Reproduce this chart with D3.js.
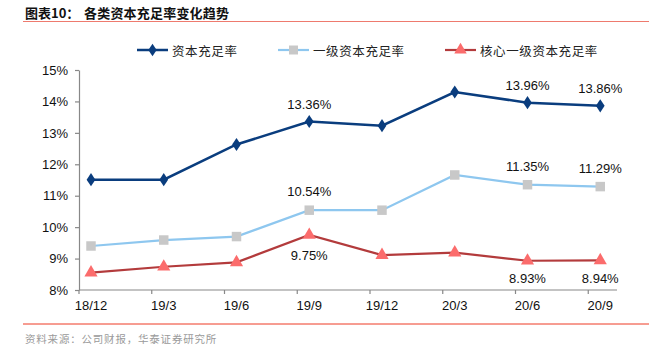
<!DOCTYPE html>
<html><head><meta charset="utf-8">
<script src="https://cdn.jsdelivr.net/npm/d3@7"></script>
<style>
html,body{margin:0;padding:0;background:#fff;}
svg{display:block;}
</style></head>
<body>
<svg id="c" width="659" height="345"></svg>
<script>
const categories = ["18/12","19/3","19/6","19/9","19/12","20/3","20/6","20/9"];
const capitalRatio = [11.51, 11.51, 12.63, 13.36, 13.23, 14.30, 13.96, 13.86];
const tier1Ratio = [9.40, 9.59, 9.70, 10.54, 10.54, 11.66, 11.35, 11.29];
const coreTier1Ratio = [8.55, 8.74, 8.88, 9.75, 9.11, 9.19, 8.93, 8.94];
const yTicks = [8, 9, 10, 11, 12, 13, 14, 15];
const seriesNames = ["资本充足率", "一级资本充足率", "核心一级资本充足率"];
const labelled = {
  capital: [3, 6, 7],
  tier1: [3, 6, 7],
  core: [3, 6, 7]
};

const svg = d3.select("#c");
const font = "'Liberation Sans', Arial, sans-serif";
const cjk = "'Noto Sans CJK SC', sans-serif";

// title
svg.append("text").attr("x", 25).attr("y", 18).attr("font-family", cjk)
  .attr("font-weight", "bold").attr("font-size", 13).attr("fill", "#111").text("图表10：");
svg.append("text").attr("x", 84).attr("y", 18).attr("font-family", cjk)
  .attr("font-weight", "bold").attr("font-size", 13).attr("fill", "#111")
  .attr("letter-spacing", 0.2).text("各类资本充足率变化趋势");
svg.append("line").attr("x1", 23).attr("x2", 649).attr("y1", 21.5).attr("y2", 21.5)
  .attr("stroke", "#ee7a6e").attr("stroke-width", 1);

// footer
svg.append("line").attr("x1", 23).attr("x2", 649).attr("y1", 324).attr("y2", 324)
  .attr("stroke", "#ee3b24").attr("stroke-width", 1);
svg.append("text").attr("x", 25).attr("y", 343).attr("font-family", cjk)
  .attr("font-size", 10.5).attr("fill", "#9a9a9a").attr("letter-spacing", 0.8)
  .text("资料来源：公司财报，华泰证券研究所");

// scales
const step = 72.75;
const x = d3.scalePoint().domain(categories).range([91, 91 + step * 7]);
const y = d3.scaleLinear().domain([8, 15]).range([290, 70]);

// y axis
const yAxis = svg.append("g").attr("transform", "translate(79,0)")
  .call(d3.axisLeft(y).tickValues(yTicks).tickFormat(d => d + "%").tickSize(4).tickSizeOuter(0));
yAxis.select(".domain").attr("stroke", "#888").attr("stroke-width", 1.2);
yAxis.selectAll(".tick line").attr("stroke", "#888").attr("stroke-width", 1.2);
yAxis.selectAll(".tick text").attr("font-family", font).attr("font-size", 13)
  .attr("fill", "#111").attr("x", -11);

// x axis
const xAxisG = svg.append("g").attr("transform", "translate(0,290)");
xAxisG.append("line").attr("x1", 79).attr("x2", 617).attr("y1", 0).attr("y2", 0)
  .attr("stroke", "#888").attr("stroke-width", 1.2);
xAxisG.selectAll("line.tk").data(categories).enter().append("line").attr("class", "tk")
  .attr("x1", d => x(d) - 12).attr("x2", d => x(d) - 12).attr("y1", 0).attr("y2", 4)
  .attr("stroke", "#888").attr("stroke-width", 1.2);
xAxisG.selectAll("text").data(categories).enter().append("text")
  .attr("x", d => x(d)).attr("y", 20).attr("text-anchor", "middle")
  .attr("font-family", font).attr("font-size", 13).attr("fill", "#111").text(d => d);

const line = d3.line().x((d, i) => x(categories[i])).y(d => y(d));

// series configs
const series = [
  {key: "capital", data: capitalRatio, stroke: "#0a3d7e", width: 2.5, marker: "diamond", fill: "#0a3d7e", size: 50},
  {key: "tier1", data: tier1Ratio, stroke: "#8ec7ef", width: 2.2, marker: "square", fill: "#c8c8c8", size: 90},
  {key: "core", data: coreTier1Ratio, stroke: "#b33b3c", width: 2.2, marker: "triangle", fill: "#fb6c6c", size: 75}
];
const symType = {diamond: d3.symbolDiamond, square: d3.symbolSquare, triangle: d3.symbolTriangle};

series.forEach(s => {
  svg.append("path").datum(s.data).attr("d", line).attr("fill", "none")
    .attr("stroke", s.stroke).attr("stroke-width", s.width);
  const sym = d3.symbol().type(symType[s.marker]).size(s.size);
  svg.selectAll(null).data(s.data).enter().append("path")
    .attr("d", sym)
    .attr("transform", (d, i) => `translate(${x(categories[i])},${y(d)})` + (s.marker === "diamond" ? " scale(1.15,1)" : ""))
    .attr("fill", s.fill);
});

// data labels
function addLabel(xv, yv, txt) {
  svg.append("text").attr("x", xv).attr("y", yv).attr("text-anchor", "middle")
    .attr("dominant-baseline", "central")
    .attr("font-family", font).attr("font-size", 13).attr("fill", "#111").text(txt);
}
labelled.capital.forEach(i => addLabel(x(categories[i]), y(capitalRatio[i]) - 17.5, capitalRatio[i].toFixed(2) + "%"));
labelled.tier1.forEach(i => addLabel(x(categories[i]), y(tier1Ratio[i]) - 18.5, tier1Ratio[i].toFixed(2) + "%"));
labelled.core.forEach(i => {
  const off = i === 3 ? 20 : 18;
  addLabel(x(categories[i]), y(coreTier1Ratio[i]) + off, coreTier1Ratio[i].toFixed(2) + "%");
});

// legend
const legendItems = [
  {name: seriesNames[0], x1: 137, s: series[0]},
  {name: seriesNames[1], x1: 278, s: series[1]},
  {name: seriesNames[2], x1: 445, s: series[2]}
];
legendItems.forEach(it => {
  const ly = 50;
  svg.append("line").attr("x1", it.x1).attr("x2", it.x1 + 31).attr("y1", ly).attr("y2", ly)
    .attr("stroke", it.s.stroke).attr("stroke-width", it.s.width);
  const sym = d3.symbol().type(symType[it.s.marker]).size(it.s.size * 0.9);
  svg.append("path").attr("d", sym)
    .attr("transform", `translate(${it.x1 + 15.5},${ly})` + (it.s.marker === "diamond" ? " scale(1.15,1)" : ""))
    .attr("fill", it.s.fill);
  svg.append("text").attr("x", it.x1 + 35).attr("y", ly).attr("dominant-baseline", "central")
    .attr("font-family", cjk).attr("font-size", 12.5).attr("fill", "#222").attr("letter-spacing", 0.6)
    .text(it.name);
});
</script>
</body></html>
